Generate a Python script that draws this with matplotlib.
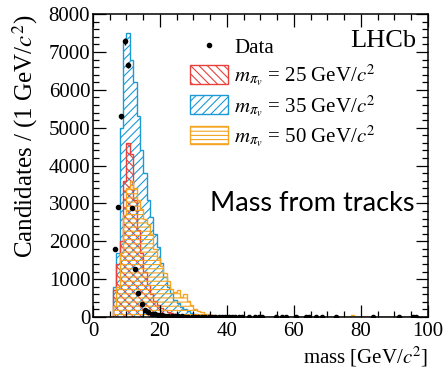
import numpy as np
import matplotlib
matplotlib.use("Agg")
import matplotlib.pyplot as plt
from matplotlib.patches import Patch
from matplotlib.lines import Line2D

plt.rcParams['font.family'] = ['Liberation Serif', 'DejaVu Serif']
plt.rcParams['mathtext.fontset'] = 'stix'
plt.rcParams['hatch.linewidth'] = 0.8

# 1 GeV bins, 0 - 100 GeV
edges = np.arange(0, 101)

# m = 35 GeV (blue)
sig35 = [0, 0, 0, 0, 0, 0, 800, 1700, 5000, 7250,
         7500, 6800, 6200, 5300, 4400, 3800, 3100, 2650, 2200, 1850,
         1430, 1060, 800, 630, 450, 370, 250, 200, 150, 100,
         80, 60, 45, 35, 25, 20, 15, 10, 8, 6,
         5, 4, 3, 2, 2, 1, 1, 1, 0, 0,
         0, 0, 0, 0, 0, 0, 0, 0, 0, 0,
         0, 0, 0, 0, 0, 0, 0, 0, 0, 0,
         0, 0, 0, 0, 0, 0, 0, 0, 0, 0,
         0, 0, 0, 0, 0, 0, 0, 0, 0, 0,
         0, 0, 0, 0, 0, 0, 0, 0, 0, 0]

# m = 25 GeV (red)
sig25 = [0, 0, 0, 0, 0, 0, 700, 1400, 2000, 3600,
         4600, 4300, 3100, 2300, 1700, 1200, 850, 600, 430, 320,
         240, 180, 140, 100, 80, 60, 45, 35, 25, 20,
         15, 10, 8, 6, 4, 3, 2, 1, 1, 0,
         0, 0, 0, 0, 0, 0, 0, 0, 0, 0,
         0, 0, 0, 0, 0, 0, 0, 0, 0, 0,
         0, 0, 0, 0, 0, 0, 0, 0, 0, 0,
         0, 0, 0, 0, 0, 0, 0, 0, 0, 0,
         0, 0, 0, 0, 0, 0, 0, 0, 0, 0,
         0, 0, 0, 0, 0, 0, 0, 0, 0, 0]

# m = 50 GeV (orange)
sig50 = [0, 0, 0, 0, 0, 0, 300, 800, 1700, 2700,
         3400, 3600, 3400, 3100, 2850, 2600, 2450, 2200, 1800, 1550,
         1350, 1150, 950, 750, 650, 700, 520, 600, 420, 320,
         220, 160, 120, 90, 70, 50, 40, 30, 25, 20,
         15, 12, 10, 8, 6, 5, 4, 3, 3, 2,
         2, 2, 1, 1, 1, 1, 1, 1, 0, 0,
         0, 0, 0, 0, 0, 0, 0, 0, 0, 0,
         0, 0, 0, 0, 0, 0, 0, 40, 0, 0,
         0, 0, 0, 0, 0, 0, 0, 0, 0, 0,
         0, 0, 0, 0, 0, 0, 0, 0, 0, 0]

# data points (bin centres, counts)
data_x = [6.5, 7.5, 8.5, 9.5, 10.5, 11.5, 12.5, 13.5, 14.5, 15.5,
          16.5, 17.5, 18.5, 19.5, 20.5, 21.5, 22.5, 23.5, 24.5, 25.5,
          26.5, 27.5, 28.5, 29.5, 30.5, 31.5, 32.5, 33.5, 34.5, 35.5,
          36.5, 37.5, 38.5, 39.5, 40.5, 41.5, 42.5, 43.5, 44.5,
          46.5, 48.5, 49.5, 50.5, 54.5, 56.5, 57.5, 60.5, 63.5, 64.5,
          66.5, 68.5, 72.5, 83.5, 91.5, 95.5, 96.5]
data_y = [1800, 2900, 5300, 7280, 6650, 2870, 1270, 630, 340, 180,
          120, 90, 70, 55, 45, 38, 30, 25, 20, 16,
          13, 11, 9, 8, 7, 6, 5, 5, 4, 4,
          3, 3, 3, 2, 2, 2, 2, 1, 1,
          1, 1, 1, 1, 1, 1, 1, 1, 1, 1,
          1, 1, 1, 1, 1, 1, 1]

c_red = '#e8413c'
c_blue = '#1b9ad6'
c_orange = '#f4a521'

fig = plt.figure(figsize=(4.46, 3.72), dpi=100)
ax = fig.add_axes([0.2085, 0.148, 0.751, 0.814])

ax.stairs(sig35, edges, fill=True, facecolor='none', edgecolor=c_blue,
          hatch='////', linewidth=1.0)
ax.stairs(sig25, edges, fill=True, facecolor='none', edgecolor=c_red,
          hatch='\\\\\\\\', linewidth=1.0)
ax.stairs(sig50, edges, fill=True, facecolor='none', edgecolor=c_orange,
          hatch='----', linewidth=1.0)

dy = np.sqrt(np.array(data_y, dtype=float))
ax.errorbar(data_x, data_y, yerr=dy, xerr=0.5, fmt='o', color='black',
            markersize=3.0, elinewidth=1.0, capsize=0)

ax.set_xlim(0, 100)
ax.set_ylim(0, 8000)
ax.set_xticks([0, 20, 40, 60, 80, 100])
ax.set_xticks(np.arange(0, 101, 5), minor=True)
ax.set_yticks(np.arange(0, 8001, 1000))
ax.set_yticks(np.arange(0, 8001, 200), minor=True)
ax.tick_params(which='both', direction='in', top=True, right=True,
               labelsize=15, width=0.9)
ax.tick_params(which='major', length=9)
ax.tick_params(which='minor', length=4.5)
ax.tick_params(axis='x', pad=4)
ax.tick_params(axis='y', pad=2)
for sp in ax.spines.values():
    sp.set_linewidth(1.1)

ax.set_xlabel('mass [GeV/$c^2$]', fontsize=15, loc='right', labelpad=2)
ax.set_ylabel('Candidates / (1 GeV/$c^2$)', fontsize=18, loc='top',
              labelpad=6)

handles = [
    Line2D([], [], marker='o', color='black', linestyle='none', markersize=3),
    Patch(facecolor='none', edgecolor=c_red, hatch='\\\\\\\\', linewidth=1.0),
    Patch(facecolor='none', edgecolor=c_blue, hatch='////', linewidth=1.0),
    Patch(facecolor='none', edgecolor=c_orange, hatch='----', linewidth=1.0),
]
labels = ['Data',
          r'$m_{\pi_v}$ = 25 GeV/$c^2$',
          r'$m_{\pi_v}$ = 35 GeV/$c^2$',
          r'$m_{\pi_v}$ = 50 GeV/$c^2$']
ax.legend(handles, labels, loc='upper left', bbox_to_anchor=(0.29, 0.925),
          frameon=False, fontsize=15, handlelength=1.8, handleheight=1.0,
          handletextpad=0.3, labelspacing=0.2, borderpad=0, borderaxespad=0)

ax.text(0.965, 0.91, 'LHCb', transform=ax.transAxes, fontsize=19,
        ha='right', va='center', family='Liberation Serif')
ax.text(0.96, 0.375, 'Mass from tracks', transform=ax.transAxes,
        fontsize=19.5, ha='right', va='center', family='Lato')

fig.savefig('out.png', dpi=100)
